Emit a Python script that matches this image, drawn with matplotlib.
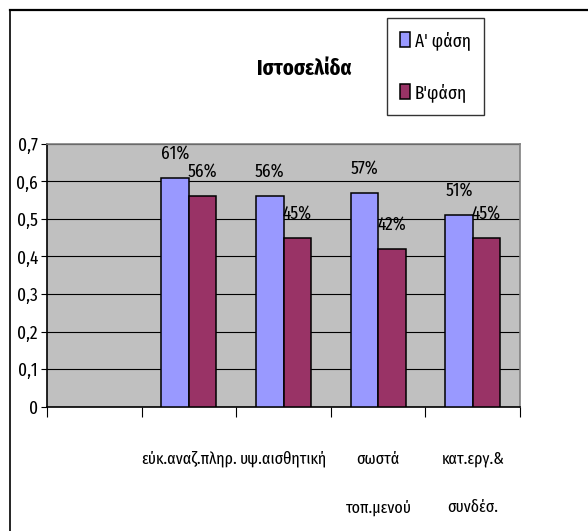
import matplotlib
matplotlib.use("Agg")
import matplotlib.pyplot as plt
from matplotlib.ticker import FuncFormatter, FixedLocator
from matplotlib.lines import Line2D
import numpy as np

plt.rcParams['font.family'] = ['Fira Sans Extra Condensed', 'Fira Sans Condensed', 'DejaVu Sans']

categories = ["", "εύκ.αναζ.πληρ.", "υψ.αισθητική", "σωστά\nτοπ.μενού", "κατ.εργ.&\nσυνδέσ."]
series_names = ["Α' φάση", "Β'φάση"]
phase_a = [None, 0.61, 0.56, 0.57, 0.51]
phase_b = [None, 0.56, 0.45, 0.42, 0.45]
colors = ["#9999FF", "#993366"]
title = "Ιστοσελίδα"
yticks = [0, 0.1, 0.2, 0.3, 0.4, 0.5, 0.6, 0.7]

W, H = 588, 531
fig = plt.figure(figsize=(W / 100, H / 100), dpi=100)
fig.patch.set_facecolor("white")

left, right, top, bottom = 47, 520, 144, 406.5
ax = fig.add_axes([left / W, 1 - bottom / H, (right - left) / W, (bottom - top) / H])
ax.set_facecolor("#C0C0C0")

n = len(categories)
x = np.arange(n)
bw = 0.29
for k, (vals, col) in enumerate(zip([phase_a, phase_b], colors)):
    xs = [xi for xi, v in zip(x, vals) if v is not None]
    vs = [v for v in vals if v is not None]
    offs = (k - 0.5) * bw
    ax.bar(np.array(xs) + offs, vs, width=bw, color=col,
           edgecolor="black", linewidth=1.1, label=series_names[k], zorder=3)
    for xi, v in zip(xs, vs):
        ax.annotate(f"{round(v * 100)}%", (xi + offs, v), xytext=(0, 14),
                    textcoords="offset points", ha="center", va="baseline",
                    fontsize=13.5, zorder=4)

ax.set_xlim(-0.5, n - 0.5)
ax.set_ylim(0, 0.7)
ax.yaxis.set_major_locator(FixedLocator(yticks))
ax.yaxis.set_major_formatter(FuncFormatter(lambda v, p: ("%g" % round(v, 1)).replace(".", ",")))
ax.grid(axis="y", color="black", linewidth=0.8, zorder=1)
ax.set_axisbelow(True)

# x ticks at slot boundaries, labels at slot centres
ax.xaxis.set_major_locator(FixedLocator(np.arange(n + 1) - 0.5))
ax.xaxis.set_major_formatter(FuncFormatter(lambda v, p: ""))
ax.xaxis.set_minor_locator(FixedLocator(x))
ax.set_xticklabels(categories, minor=True)
ax.tick_params(axis="x", which="major", direction="out", length=7, width=0.8, color="black")
ax.tick_params(axis="x", which="minor", length=0, pad=32, labelsize=12.5)
for lab in ax.get_xticklabels(minor=True):
    lab.set_linespacing(3.55)
    lab.set_verticalalignment("top")
ax.tick_params(axis="y", direction="out", length=4, width=0.8, pad=2.5, labelsize=13.5)

for s in ["left", "bottom"]:
    ax.spines[s].set_color("black")
    ax.spines[s].set_linewidth(1.2)
for s in ["top", "right"]:
    ax.spines[s].set_color("#808080")
    ax.spines[s].set_linewidth(1.2)

fig.text(304 / W, 1 - 69 / H, title, ha="center", va="center", fontsize=16, fontweight="bold")

handles, labels = ax.get_legend_handles_labels()
leg = fig.legend(handles, labels, loc="upper left", bbox_to_anchor=(387 / W, 1 - 18 / H),
                 fontsize=13.5, frameon=True, fancybox=False, shadow=False,
                 handlelength=0.55, handleheight=0.8, handletextpad=0.25,
                 labelspacing=1.75, borderpad=0.7, borderaxespad=0)
leg.get_frame().set_edgecolor("black")
leg.get_frame().set_linewidth(1.0)

# outer chart border (top and left visible)
fig.add_artist(Line2D([9.5 / W, 1.0], [1 - 10 / H, 1 - 10 / H], color="black", linewidth=1.6,
                      transform=fig.transFigure))
fig.add_artist(Line2D([9.5 / W, 9.5 / W], [0, 1 - 10 / H], color="black", linewidth=1.2,
                      transform=fig.transFigure))

fig.savefig("out.png", dpi=100)
